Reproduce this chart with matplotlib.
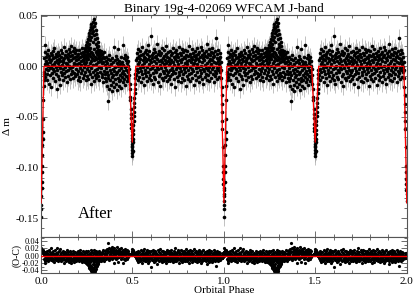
#!/usr/bin/env python3
"""
Phase-folded J-band light curve of binary 19g-4-02069 with model and residuals
"""
import numpy as np
import matplotlib
matplotlib.use("Agg")
import matplotlib.pyplot as plt
from matplotlib.ticker import MultipleLocator

# (phase in 1/1000, delta mag in mmag), out of eclipse
baseline_pairs = [
    (17, 8), (18, -6), (20, 14), (21, 2), (23, -11), (24, 21), (26, 5), (27, -3), (29, 9), (31, -14),
    (32, 3), (34, 12), (35, -8), (37, 0), (39, 16), (40, -4), (42, 7), (44, -17), (45, 10), (47, -2),
    (48, 4), (50, -9), (52, 13), (53, -1), (55, 6), (57, -20), (58, 11), (60, 1), (61, -7), (63, 15),
    (65, -3), (66, 8), (68, -12), (70, 2), (71, 18), (73, -5), (75, 9), (76, -15), (78, 4), (80, -1),
    (81, 12), (83, -8), (85, 6), (86, -22), (88, 10), (90, -4), (91, 3), (93, 14), (95, -10), (96, 0),
    (98, 7), (100, -13), (101, 11), (103, -2), (105, 5), (106, -18), (108, 9), (110, -6), (111, 16), (113, 1),
    (115, -9), (116, 13), (118, -3), (120, 6), (121, -14), (123, 4), (125, 19), (126, -7), (128, 8), (130, -1),
    (131, 11), (133, -11), (135, 3), (136, 15), (138, -5), (140, 9), (141, -16), (143, 2), (145, 12), (146, -4),
    (148, 7), (150, -10), (151, 17), (153, 0), (155, 5), (156, -13), (158, 10), (160, -2), (161, 14), (163, -8),
    (165, 6), (166, 20), (168, -5), (170, 11), (171, -1), (173, 8), (175, -12), (176, 15), (178, 3), (180, -7),
    (181, 18), (183, 1), (185, 9), (186, -10), (188, 13), (190, -3), (191, 6), (193, 16), (195, -8), (196, 10),
    (198, 2), (200, -14),
    (201, 7), (203, -5), (204, 12), (206, -11), (208, 3), (209, 16), (211, -2), (213, 9), (214, -15), (216, 5),
    (218, 13), (219, -7), (221, 1), (223, 18), (224, -4), (226, 10), (228, -12), (229, 6), (231, 14), (233, -1),
    (234, 8), (236, -9), (238, 17), (239, 2), (241, -6), (243, 11), (244, -14), (246, 4), (248, 15), (249, -3),
    (251, 9), (253, -10), (254, 19), (256, 0), (258, 7), (259, -13), (261, 12), (263, -5), (264, 16), (266, 3),
    (268, -8), (269, 10), (271, -17), (273, 5), (274, 14), (276, -2), (278, 8), (279, -11), (281, 13), (283, 1),
    (284, -6), (286, 11), (288, -15), (289, 6), (291, 17), (293, -4), (294, 9), (296, -9), (298, 2), (299, 14),
    (301, -12), (303, 7), (304, -3), (306, 12), (308, -7), (309, 4), (311, 16), (313, -10), (314, 8), (316, -1),
    (318, 13), (319, -14), (321, 5), (323, 10), (324, -6), (326, 15), (328, -2), (329, 7), (331, -11), (333, 3),
    (334, 12), (336, -8), (338, 9), (339, -16), (341, 4), (343, 14), (344, -5), (346, 8), (348, -12), (349, 1),
    (351, -8), (353, 5), (354, -15), (356, -2), (358, 9), (359, -19), (361, -6), (363, 3), (364, -12), (366, -34),
    (368, 7), (369, -9), (371, -22), (373, 0), (374, 11), (376, -14), (378, -4), (379, 6), (381, -18), (383, -7),
    (384, 2), (386, -24), (388, -11), (389, 8), (391, -3), (393, -16), (394, 4), (396, -9), (398, 19), (399, -20),
    (401, -5), (403, 6), (404, -13), (406, -1), (408, 10), (409, -17), (411, -8), (413, 3), (414, -23), (416, -6),
    (418, 7), (419, -12), (421, 0), (423, 17), (424, -15), (426, -4), (428, 5), (429, -19), (431, -9), (433, 2),
    (434, -14), (436, 9), (438, -2), (439, -21), (441, -7), (443, 4), (444, -11), (446, 21), (448, -5), (449, -16),
    (451, 1), (453, -8), (454, 8), (456, -13), (458, -1), (459, 11), (461, -18), (463, -4), (464, 6), (466, -10),
    (468, 3), (469, -15), (471, 9), (473, -6), (474, 0), (476, -12), (477, 5),
    (520, 6), (521, -9), (523, 13), (525, -3), (526, 8), (528, -14), (530, 2), (531, 17), (533, -6), (535, 10),
    (536, -11), (538, 4), (540, 15), (541, -2), (543, 7), (545, -16), (546, 11), (548, -5), (550, 1), (551, 19),
    (553, -8), (555, 6), (556, -12), (558, 12), (560, -1), (561, 9), (563, -18), (565, 3), (566, 14), (568, -7),
    (570, 8), (571, -4), (573, 16), (575, -10), (576, 5), (578, -1), (580, 12), (581, -15), (583, 7), (585, 21),
    (586, -6), (588, 2), (590, 10), (591, -12), (593, 15), (595, -3), (596, 6), (598, -9), (600, 30), (601, 4),
    (603, -14), (605, 11), (606, -2), (608, 8), (610, -17), (611, 13), (613, 0), (615, -7), (616, 17), (618, 5),
    (620, -11), (621, 9), (623, -4), (625, 14), (626, -13), (628, 3), (630, 10), (631, -6), (633, 22), (635, -1),
    (636, 7), (638, -16), (640, 12), (641, -3), (643, 5), (645, -10), (646, 15), (648, 1), (650, -8), (651, 11),
    (653, -19), (655, 6), (656, -2), (658, 13), (660, -12), (661, 4), (663, 18), (665, -5), (666, 8), (668, -14),
    (670, 2), (671, 10), (673, -7), (675, 16), (676, -1), (678, 6), (680, -11), (681, 12), (683, -4), (685, 20),
    (686, 3), (688, -9), (690, 9), (691, -15), (693, 5), (695, 14), (696, -6), (698, 1), (700, -13),
    (701, 8), (703, -4), (705, 15), (706, -10), (708, 3), (710, 11), (711, -17), (713, 6), (715, -2), (716, 13),
    (718, -8), (720, 4), (721, 18), (723, -5), (725, 9), (726, -13), (728, 1), (730, 14), (731, -7), (733, 7),
    (735, -20), (736, 10), (738, -3), (740, 16), (741, -11), (743, 5), (745, -1), (746, 12), (748, -15), (750, 2),
    (751, 9), (753, -6), (755, 19), (756, -9), (758, 6), (760, -2), (761, 13), (763, -16), (765, 4), (766, 11),
    (768, -5), (770, 17), (771, -12), (773, 7), (775, 0), (776, -8), (778, 14), (780, -3), (781, 9), (783, -14),
    (785, 3), (786, 16), (788, -6), (790, 8), (791, -19), (793, 11), (795, -1), (796, 5), (798, -10), (800, 15),
    (801, 2), (803, -13), (805, 10), (806, -4), (808, 20), (810, -8), (811, 6), (813, -1), (815, 12), (816, -15),
    (818, 4), (820, 9), (821, -7), (823, 17), (825, -3), (826, 7), (828, -12), (830, 1), (831, 13), (833, -5),
    (835, 10), (836, -18), (838, 3), (840, 15), (841, -9), (843, 6), (845, -2), (846, 11), (848, -14), (850, 8),
    (851, 18), (853, -6), (855, 2), (856, -11), (858, 12), (860, -1), (861, 7), (863, -16), (865, 5), (866, 14),
    (868, -4), (870, 9), (871, -10), (873, 19), (875, 0), (876, -7), (878, 11), (880, -13), (881, 4), (883, 16),
    (885, -3), (886, 8), (888, -17), (890, 6), (891, 13), (893, -5), (895, 1), (896, -11), (898, 10), (900, -2),
    (901, 15), (903, -8), (905, 22), (906, 3), (908, -14), (910, 9), (911, -4), (913, 12), (915, -9), (916, 5),
    (918, 17), (920, -1), (921, -15), (923, 7), (925, 11), (926, -6), (928, 2), (930, 14), (931, -12), (933, 6),
    (935, -3), (936, 18), (938, -8), (940, 9), (941, -1), (943, 13), (945, -16), (946, 4), (948, 10), (950, -5),
    (951, 15), (953, -10), (955, 3), (956, 28), (958, -7), (960, 8), (961, -2), (963, 12), (965, -13), (966, 5),
    (968, 16), (970, -4), (971, 7), (973, -11), (975, 2), (976, 13), (978, -6), (980, 9), (981, -1), (983, 4),
]

# brightening seen around phase 0.29
spot_pairs = [
    (231, 6), (234, 12), (236, 3), (238, 15), (241, 9), (243, 18), (245, 7), (247, 21), (249, 14), (251, 24),
    (253, 11), (255, 19), (257, 27), (259, 16), (261, 30), (263, 22), (265, 33), (266, 18), (268, 36), (270, 26),
    (272, 39), (274, 29), (276, 42), (278, 33), (280, 38), (282, 24), (284, 44), (286, 35), (288, 47), (290, 40),
    (292, 31), (294, 43), (296, 27), (298, 36), (300, 22), (302, 32), (304, 19), (306, 28), (308, 15), (310, 24),
    (312, 11), (314, 20), (316, 8), (318, 16), (320, 5), (322, 12), (325, 7),
]

secondary_pairs = [
    (480, -3), (482, -9), (484, -17), (485, -22), (487, -30), (488, -33), (490, -42), (491, -47), (492, -51),
    (493, -57), (494, -61), (495, -64), (496, -68), (497, -71), (497, -74), (498, -79), (498, -83), (499, -77),
    (499, -86), (500, -89), (500, -80), (501, -84), (501, -72), (502, -75), (503, -67), (504, -63), (505, -58),
    (506, -54), (507, -49), (508, -45), (509, -40), (510, -36), (511, -31), (512, -26), (513, -22), (514, -17),
    (515, -12), (516, -8), (517, -4),
]

primary_pairs = [
    (0, -141), (1, -149), (1, -137), (2, -128), (3, -120), (4, -114), (5, -104), (6, -99), (7, -88),
    (8, -78), (9, -72), (10, -65), (11, -52), (13, -33), (14, -19), (15, -14), (16, -8),
    (985, -4), (986, -12), (987, -20), (988, -28), (989, -37), (990, -45), (991, -54), (992, -62),
    (994, -80), (995, -99), (996, -104), (997, -111), (997, -116), (998, -122), (999, -126), (999, -133),
]

# piecewise model over one cycle
model_phase = [0.0, 0.016, 0.480, 0.499, 0.518, 0.984, 1.0]
model_dmag = [-0.135, 0.0, 0.0, -0.075, 0.0, 0.0, -0.135]

dmag_err = 0.009

x_ticks = [0.0, 0.5, 1.0, 1.5, 2.0]

# --- assemble one cycle, then show it twice
pairs = np.array(baseline_pairs + spot_pairs + secondary_pairs + primary_pairs, dtype=float)
phase1 = pairs[:, 0] / 1000.0
dmag1 = pairs[:, 1] / 1000.0
phase = np.concatenate([phase1, phase1 + 1.0])
dmag = np.concatenate([dmag1, dmag1])

mph = np.concatenate([model_phase, np.array(model_phase[1:]) + 1.0])
mdm = np.concatenate([model_dmag, model_dmag[1:]])
resid = np.interp(phase, mph, mdm) - dmag

plt.rcParams['font.family'] = ['Liberation Serif', 'DejaVu Serif']

fig = plt.figure(figsize=(4.15, 2.97), dpi=100)
ax = fig.add_axes([0.0988, 0.201, 0.8814, 0.7485])
axr = fig.add_axes([0.0988, 0.080, 0.8814, 0.121])

ax.errorbar(phase, dmag, yerr=dmag_err, fmt='none', ecolor='#a8a8a8', elinewidth=0.5, zorder=1)
ax.plot(phase, dmag, 'o', color='black', ms=2.6, mew=0, zorder=2)
ax.plot(mph, mdm, color='red', lw=0.9, zorder=3)

ax.set_xlim(0, 2)
ax.set_ylim(-0.169, 0.0507)
ax.set_yticks([0.05, 0.0, -0.05, -0.10, -0.15])
ax.set_yticklabels(['0.05', '0.00', '-0.05', '-0.10', '-0.15'])
ax.yaxis.set_minor_locator(MultipleLocator(0.01))
ax.set_xticks(x_ticks)
ax.xaxis.set_minor_locator(MultipleLocator(0.1))
ax.tick_params(labelbottom=False)
ax.set_ylabel('Δ m', fontsize=8, labelpad=2)
ax.set_title('Binary 19g-4-02069 WFCAM J-band', fontsize=9.5, pad=2)
ax.text(0.20, -0.150, 'After', fontsize=12)

axr.plot(phase, resid, 'o', color='black', ms=2.3, mew=0, zorder=2)
axr.axhline(0.0, color='red', lw=1.0, zorder=3)
axr.set_xlim(0, 2)
axr.set_ylim(-0.0486, 0.0508)
axr.set_yticks([0.04, 0.02, 0.0, -0.02, -0.04])
axr.set_yticklabels(['0.04', '0.02', '0.00', '-0.02', '-0.04'])
axr.yaxis.set_minor_locator(MultipleLocator(0.01))
axr.set_xticks(x_ticks)
axr.set_xticklabels(['0.0', '0.5', '1.0', '1.5', '2.0'])
axr.xaxis.set_minor_locator(MultipleLocator(0.1))
axr.set_xlabel('Orbital Phase', fontsize=8, labelpad=0)
axr.set_ylabel('(O-C)', fontsize=7, labelpad=0)

for a in (ax, axr):
    a.tick_params(which='both', direction='in', top=True, right=True, colors='#555555',
                  labelcolor='black', width=0.6)
    a.tick_params(which='major', length=4)
    a.tick_params(which='minor', length=2)
    for s in a.spines.values():
        s.set_color('#555555')
        s.set_linewidth(0.8)
ax.tick_params(axis='y', labelsize=8, pad=2)
axr.tick_params(axis='y', labelsize=6, pad=1)
axr.tick_params(axis='x', labelsize=8, pad=3)

fig.savefig('out.png', dpi=100)
